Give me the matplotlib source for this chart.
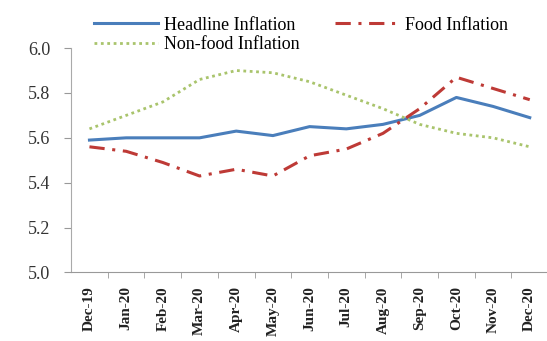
import matplotlib
matplotlib.use("Agg")
import matplotlib.pyplot as plt

months = ["Dec-19", "Jan-20", "Feb-20", "Mar-20", "Apr-20", "May-20", "Jun-20",
          "Jul-20", "Aug-20", "Sep-20", "Oct-20", "Nov-20", "Dec-20"]
headline = [5.59, 5.60, 5.60, 5.60, 5.63, 5.61, 5.65, 5.64, 5.66, 5.70, 5.78, 5.74, 5.69]
food = [5.56, 5.54, 5.49, 5.43, 5.46, 5.43, 5.52, 5.55, 5.62, 5.73, 5.87, 5.82, 5.77]
non_food = [5.64, 5.70, 5.76, 5.86, 5.90, 5.89, 5.85, 5.79, 5.73, 5.66, 5.62, 5.60, 5.56]

plt.rcParams["font.family"] = ["Liberation Serif", "DejaVu Serif"]

fig = plt.figure(figsize=(5.47, 3.41), dpi=100)
ax = fig.add_axes([0.130, 0.201, 0.872, 0.658])

x = range(len(months))
h, = ax.plot(x, headline, color="#4A7EBB", lw=2.2, label="Headline Inflation")
f, = ax.plot(x, food, color="#BE3A36", lw=2.2, dashes=(5, 2.5, 1, 2.5),
             label="Food Inflation")
n, = ax.plot(x, non_food, color="#A9C46C", lw=2.0, dashes=(1, 1.3),
             label="Non-food Inflation")

ax.set_xlim(-0.5, len(months) - 0.5)
ax.set_ylim(5.0, 6.0)
ax.set_yticks([5.0, 5.2, 5.4, 5.6, 5.8, 6.0])
ax.set_yticklabels(["5.0", "5.2", "5.4", "5.6", "5.8", "6.0"], fontsize=13, color="#333333")
ax.set_xticks(list(x))
ax.set_xticklabels(months, rotation=90, fontsize=11, fontweight="bold", color="#222222")
ax.tick_params(axis="x", which="major", length=0, pad=10)
ax.set_xticks([i + 0.5 for i in range(len(months) - 1)], minor=True)
ax.tick_params(axis="x", which="minor", length=4, color="#999999", direction="out")
ax.tick_params(axis="y", length=5, color="#999999", pad=10)

for side in ["top", "right"]:
    ax.spines[side].set_visible(False)
ax.spines["left"].set_color("#AAAAAA")
ax.spines["bottom"].set_color("#999999")

fig.legend(handles=[h, n, f], ncol=2, frameon=False, fontsize=13,
           loc="upper left", bbox_to_anchor=(0.148, 0.988),
           handlelength=3.55, columnspacing=2.0, handletextpad=0.33,
           labelspacing=0.15, borderpad=0.2)

fig.savefig("out.png", dpi=100)
